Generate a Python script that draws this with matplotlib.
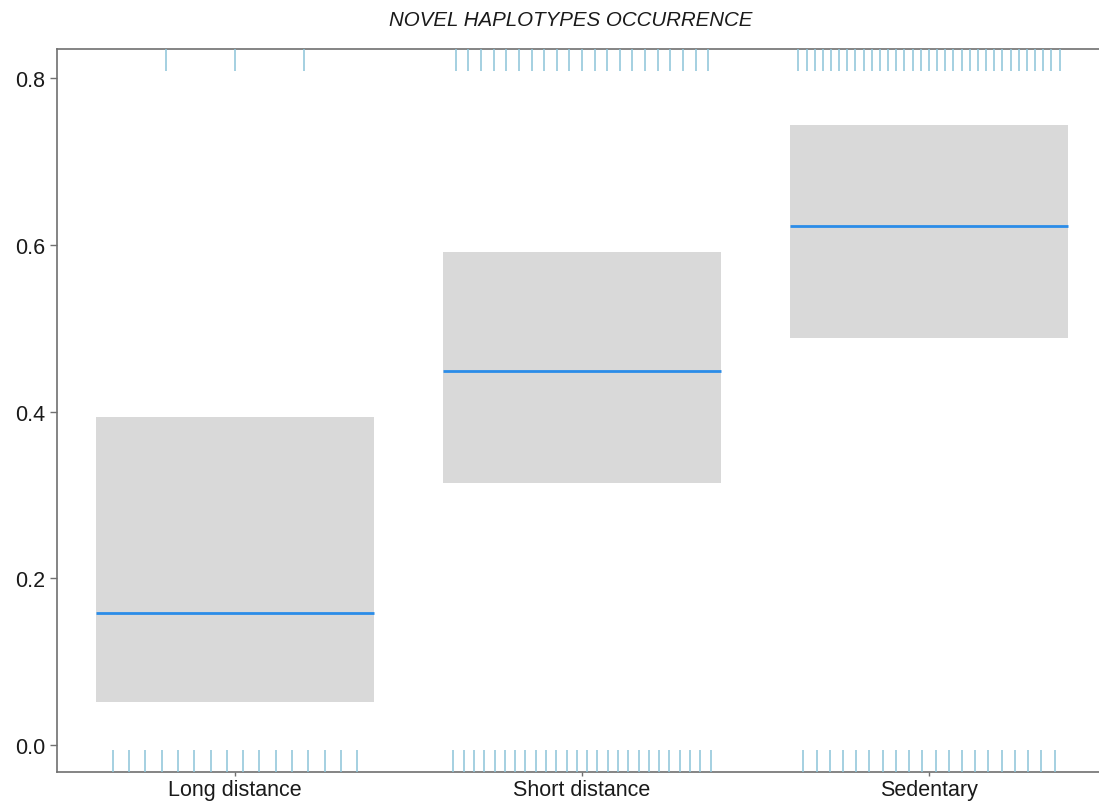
import numpy as np
import matplotlib
matplotlib.use('Agg')
import matplotlib.pyplot as plt

plt.rcParams['font.family'] = ['Liberation Sans', 'DejaVu Sans']

# fitted probability and confidence band per migration class
groups = ['Long distance', 'Short distance', 'Sedentary']
fit = [0.158, 0.448, 0.623]
lower = [0.052, 0.314, 0.488]
upper = [0.393, 0.591, 0.744]

# number of observations without (0) and with (1) novel haplotypes
n_absent = [16, 26, 20]
n_present = [3, 21, 33]

band_col = '#D9D9D9'
line_col = '#2B8CE8'
rug_col = '#8CC4D8'
axis_col = '#707070'

fig = plt.figure(figsize=(10.99, 8.03), dpi=100)
ax = fig.add_axes([57/1099, 30/803, 1 - 57/1099, 723/803])

half = 0.4
for i, g in enumerate(groups):
    ax.fill_between([i - half, i + half], lower[i], upper[i],
                    color=band_col, lw=0, zorder=1)
    ax.hlines(fit[i], i - half, i + half, color=line_col, lw=2, zorder=2)

    # rug: observations spread evenly across the group width
    trans = ax.get_xaxis_transform()
    x0 = np.linspace(i - half, i + half, n_absent[i] + 2)[1:-1]
    x1 = np.linspace(i - half, i + half, n_present[i] + 2)[1:-1]
    ax.vlines(x0, 0, 0.031, transform=trans, color=rug_col, lw=1.1, zorder=3)
    ax.vlines(x1, 0.969, 1, transform=trans, color=rug_col, lw=1.1, zorder=3)

ax.set_xlim(-0.513, 2.49)
ax.set_ylim(-0.0324, 0.8348)

ax.set_xticks(range(len(groups)))
ax.set_xticklabels(groups)
ax.set_yticks([0.0, 0.2, 0.4, 0.6, 0.8])
ax.set_yticklabels(['0.0', '0.2', '0.4', '0.6', '0.8'])
ax.tick_params(axis='both', colors=axis_col, labelcolor='#1a1a1a',
               labelsize=15.5, length=5, width=1)
ax.tick_params(axis='x', length=3, pad=2)

for side in ['left', 'bottom', 'top']:
    ax.spines[side].set_color(axis_col)
    ax.spines[side].set_linewidth(1.2)
ax.spines['right'].set_visible(False)

fig.text(571/1099, 1 - 21/803, 'NOVEL HAPLOTYPES OCCURRENCE',
         ha='center', va='center', fontsize=14.8, style='italic', color='#1a1a1a')

fig.savefig('out.png', dpi=100)
